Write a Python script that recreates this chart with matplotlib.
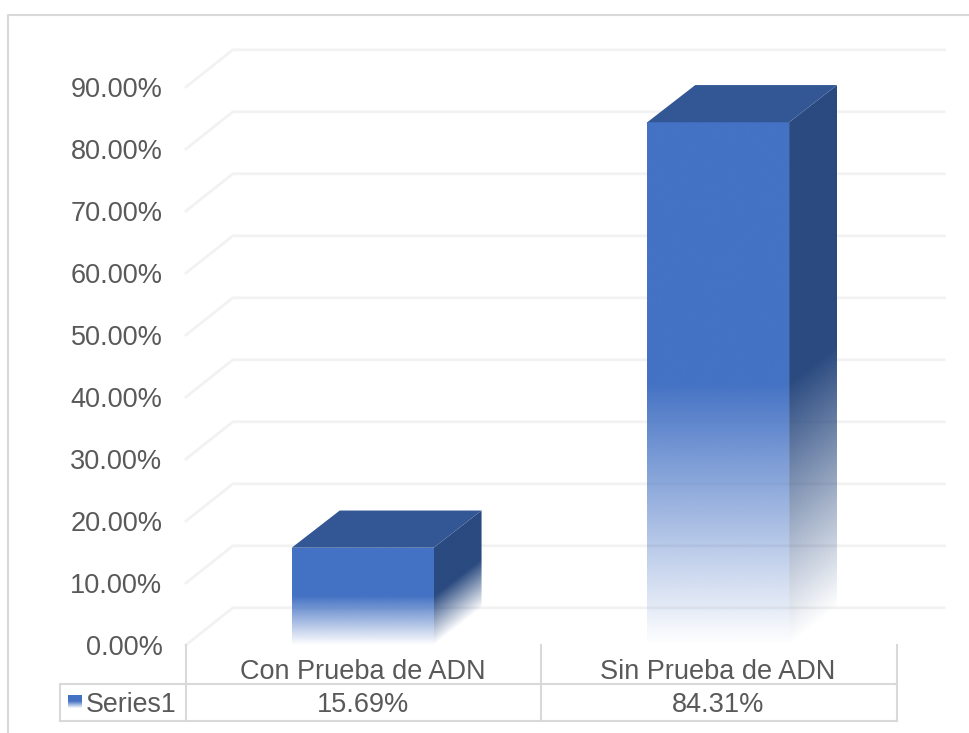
import numpy as np
import matplotlib
matplotlib.use("Agg")
import matplotlib.pyplot as plt
from matplotlib.colors import to_rgb
from matplotlib.patches import Polygon

plt.rcParams['font.family'] = ['Liberation Sans', 'DejaVu Sans']

categories = ["Con Prueba de ADN", "Sin Prueba de ADN"]
values = [15.69, 84.31]
ticks = [0, 10, 20, 30, 40, 50, 60, 70, 80, 90]
series_name = "Series1"

text_color = "#595959"
line_color = "#d9d9d9"
grid_color = "#f2f2f2"
front_color = "#4472c4"
side_color = "#2a4a80"
top_color = "#335795"

# 3d depth, in axis units
depth_x = 0.135
depth_y = 6.0
bar_width = 0.399
text_shift = -0.5  # labels sit a little under their gridline


def draw_face(ax, x0, x1, y0, height, rise, color):
    # one bar face: solid for the top half, fades out to the bottom.
    # rise is how far the face climbs going from x0 to x1
    xs = np.linspace(x0, x1, 200)
    ys = np.linspace(y0, y0 + height + rise, 800)
    X, Y = np.meshgrid(xs, ys)
    t = (Y - y0 - rise * (X - x0) / (x1 - x0)) / height
    rgba = np.ones(X.shape + (4,))
    rgba[:, :, :3] = to_rgb(color)
    rgba[:, :, 3] = np.clip(t / 0.5, 0, 1)
    im = ax.imshow(rgba, origin="lower", extent=[x0, x1, y0, y0 + height + rise],
                   aspect="auto", interpolation="bilinear", zorder=3)
    poly = Polygon([[x0, y0], [x1, y0 + rise], [x1, y0 + height + rise], [x0, y0 + height]],
                   transform=ax.transData, fc="none", ec="none")
    ax.add_patch(poly)
    im.set_clip_path(poly)


fig = plt.figure(figsize=(9.69, 7.33), dpi=100)
ax = fig.add_axes([0, 0, 1, 1])

# back wall grid and the floor/side diagonals
for t in ticks:
    ax.plot([0, 0.132, 2.133], [t, t + depth_y, t + depth_y], color=grid_color, lw=2, zorder=1)
    ax.text(-0.066, t + text_shift, "%.2f%%" % t, ha="right", va="center", fontsize=19.5, color=text_color)

# bars
for i, v in enumerate(values):
    left = i + 0.497 - bar_width / 2
    right = left + bar_width
    draw_face(ax, left, right, 0, v, 0, front_color)
    draw_face(ax, right, right + depth_x, 0, v, depth_y, side_color)
    ax.fill([left, right, right + depth_x, left + depth_x],
            [v, v, v + depth_y, v + depth_y], color=top_color, lw=0, zorder=4)

# data table
row_top = -6.3
row_bottom = -12.3
cat_top = 0
legend_left = -0.355
lines = [
    ([legend_left, 2], [row_top, row_top]),
    ([legend_left, 2], [row_bottom, row_bottom]),
    ([legend_left, legend_left], [row_top, row_bottom]),
    ([0, 0], [cat_top, row_bottom]),
    ([1, 1], [cat_top, row_bottom]),
    ([2, 2], [cat_top, row_bottom]),
]
for xs, ys in lines:
    ax.plot(xs, ys, color=line_color, lw=1.5, zorder=2, solid_capstyle="projecting")

for i, (name, v) in enumerate(zip(categories, values)):
    ax.text(i + 0.497, -4.3, name, ha="center", va="center", fontsize=19.5, color=text_color)
    ax.text(i + 0.497, -9.65, "%.2f%%" % v, ha="center", va="center", fontsize=19.5, color=text_color)

ax.text(-0.028, -9.65, series_name, ha="right", va="center", fontsize=19.3, color=text_color)

# legend key
draw_face(ax, -0.332, -0.293, -10.2, 2.2, 0, front_color)

# chart frame, cut off at the bottom and the right
ax.plot([-0.5, -0.5, 2.2025], [-14.19, 101.6, 101.6], color=line_color, lw=1.5, zorder=0)

ax.set_xlim(-0.523, 2.2025)
ax.set_ylim(-14.19, 104.03)
ax.axis("off")

fig.savefig("out.png", dpi=100)
